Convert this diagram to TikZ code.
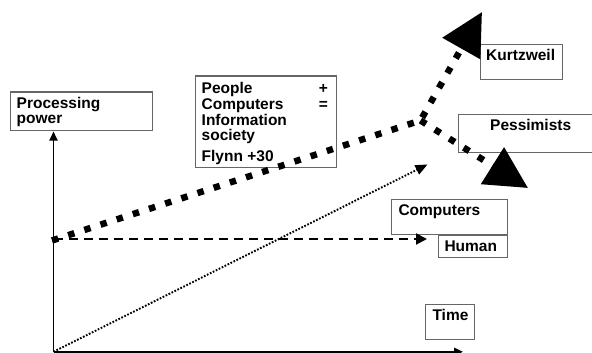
\documentclass[tikz,border=0pt]{standalone}
\usepackage{fontspec}
\setmainfont{Liberation Sans}
\usetikzlibrary{arrows.meta}
\tikzset{
  box/.style={draw=black!60, line width=1.2pt, inner sep=0pt, anchor=north west},
  lbl/.style={font=\fontsize{15.5}{16}\selectfont\bfseries, inner sep=0pt, anchor=base west},
  axis/.style={line width=1.8pt, -{Triangle[length=9pt,width=8pt]}},
  humanline/.style={line width=2pt, dash pattern=on 9pt off 6pt, -{Triangle[length=11pt,width=11pt]}},
  compline/.style={line width=1.9pt, dash pattern=on 1.7pt off 1.6pt, -{Triangle[length=12pt,width=10pt]}},
  infoline/.style={line width=6.5pt, dash pattern=on 6.5pt off 10.5pt, -{Triangle[length=42pt,width=42pt]}},
}
\begin{document}
\begin{tikzpicture}[x=1pt,y=-1pt]
\useasboundingbox (0,0) rectangle (592,353);
% boxes
\node[box, minimum width=142pt, minimum height=38pt] (ppbox) at (9.5,91.5) {};
\node[box, minimum width=140.5pt, minimum height=91.5pt] (peoplebox) at (195,75.5) {};
\node[box, minimum width=81.5pt, minimum height=35pt] (kurbox) at (480,44) {};
\node[box, minimum width=140pt, minimum height=38pt] (pesbox) at (458,114) {};
\node[box, minimum width=115.5pt, minimum height=34.5pt] (compbox) at (391,199) {};
\node[box, minimum width=69.5pt, minimum height=22pt] (humbox) at (437.5,234.5) {};
\node[box, minimum width=49pt, minimum height=35pt] (timebox) at (425,303.5) {};
% texts
\node[lbl] (pp1) at (16.5,108.3) {Processing};
\node[lbl] (pp2) at (16.5,124) {power};
\node[lbl] (pe1) at (201.5,93.3) {People};
\node[lbl] (pe2) at (201.5,109.2) {Computers};
\node[lbl] (pe3) at (201.5,125) {Information};
\node[lbl] (pe4) at (201.5,140.8) {society};
\node[lbl] (pe5) at (201.5,161.7) {Flynn +30};
\node[lbl, anchor=base east] (plus) at (328,93.3) {+};
\node[lbl, anchor=base east] (eq) at (328,109.2) {=};
\node[lbl] (kur) at (486,61) {Kurtzweil};
\node[lbl] (pes) at (490,130.5) {Pessimists};
\node[lbl] (comp) at (398.3,215) {Computers};
\node[lbl] (hum) at (444.3,251.3) {Human};
\node[lbl] (time) at (432.3,320) {Time};
% coordinates
\coordinate (origin) at (53.5,351.8);
\coordinate (ytip) at (53.5,131.5);
\coordinate (xtip) at (463,351.8);
\coordinate (hstart) at (54,239);
\coordinate (htip) at (427,239);
\coordinate (ctip) at (427.5,164.5);
\coordinate (istart) at (52,240.5);
\coordinate (knee) at (420.5,120.5);
\coordinate (ktip) at (482,12);
\coordinate (ptip) at (528,188);
% lines
\draw[compline] (origin) -- (ctip);
\draw[humanline] (hstart) -- (htip);
\draw[infoline] (istart) -- (knee) -- (ktip);
\draw[infoline] (knee) -- (ptip);
\draw[axis] (origin) -- (ytip);
\draw[axis] (origin) -- (xtip);
\end{tikzpicture}
\end{document}
